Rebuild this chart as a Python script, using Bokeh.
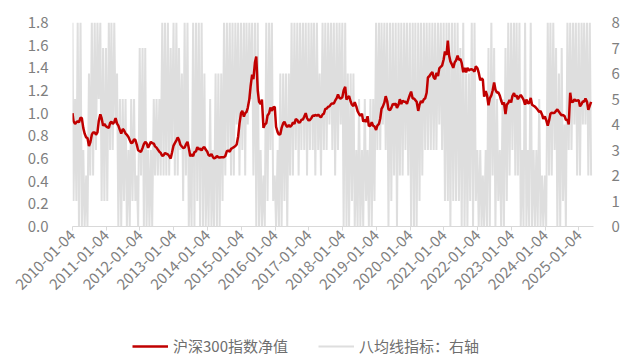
import pandas as pd
from math import pi
from bokeh.plotting import figure
from bokeh.layouts import column
from bokeh.models import (Range1d, LinearAxis, FixedTicker, DatetimeTickFormatter,
                          NumeralTickFormatter, Legend, LegendItem)
from bokeh.embed import file_html
from bokeh.resources import INLINE

FONT = "Noto Sans CJK SC"

tick_labels = ["2010-01-04", "2011-01-04", "2012-01-04", "2013-01-04", "2014-01-04",
               "2015-01-04", "2016-01-04", "2017-01-04", "2018-01-04", "2019-01-04",
               "2020-01-04", "2021-01-04", "2022-01-04", "2023-01-04", "2024-01-04",
               "2025-01-04"]
series_names = ["沪深300指数净值", "八均线指标：右轴"]

# 沪深300指数净值 (semi-monthly readings)
nav_2010 = [1.00, 0.93, 0.905, 0.92, 0.93, 0.92, 0.96, 0.955, 0.868, 0.82, 0.786, 0.78,
            0.71, 0.74, 0.81, 0.83, 0.83, 0.81, 0.83, 0.93, 0.99, 0.956, 0.89, 0.905]
nav_2011 = [0.885, 0.877, 0.87, 0.914, 0.925, 0.905, 0.922, 0.956, 0.908, 0.89, 0.85, 0.82,
            0.86, 0.85, 0.82, 0.81, 0.79, 0.764, 0.735, 0.74, 0.77, 0.764, 0.72, 0.673]
nav_2012 = [0.664, 0.66, 0.693, 0.727, 0.747, 0.735, 0.694, 0.72, 0.747, 0.735, 0.733, 0.707,
            0.696, 0.679, 0.66, 0.65, 0.622, 0.628, 0.649, 0.642, 0.636, 0.622, 0.60, 0.65]
nav_2013 = [0.714, 0.735, 0.76, 0.786, 0.764, 0.724, 0.706, 0.693, 0.696, 0.724, 0.747, 0.693,
            0.62, 0.636, 0.622, 0.656, 0.662, 0.70, 0.68, 0.687, 0.67, 0.693, 0.70, 0.679]
nav_2014 = [0.66, 0.63, 0.623, 0.64, 0.617, 0.60, 0.608, 0.622, 0.611, 0.608, 0.611, 0.611,
            0.612, 0.622, 0.665, 0.67, 0.66, 0.685, 0.693, 0.70, 0.71, 0.724, 0.795, 0.905]
nav_2015 = [1.0, 1.02, 0.97, 1.0, 1.01, 1.047, 1.124, 1.24, 1.34, 1.30, 1.45, 1.50,
            1.20, 1.10, 1.08, 1.12, 0.87, 0.90, 0.91, 0.98, 1.00, 1.05, 1.02, 1.05]
nav_2016 = [1.055, 0.88, 0.833, 0.81, 0.815, 0.87, 0.91, 0.925, 0.893, 0.877, 0.896, 0.88,
            0.892, 0.917, 0.906, 0.948, 0.94, 0.917, 0.92, 0.942, 0.944, 0.97, 1.0, 0.956]
nav_2017 = [0.936, 0.94, 0.958, 0.979, 0.976, 0.984, 0.978, 0.987, 0.973, 0.962, 0.988, 0.996,
            1.037, 1.04, 1.057, 1.06, 1.08, 1.086, 1.085, 1.11, 1.133, 1.165, 1.133, 1.13]
nav_2018 = [1.14, 1.20, 1.233, 1.12, 1.138, 1.15, 1.103, 1.075, 1.063, 1.098, 1.06, 1.018,
            0.993, 0.976, 0.995, 0.925, 0.943, 0.922, 0.973, 0.885, 0.891, 0.92, 0.888, 0.883]
nav_2019 = [0.852, 0.89, 0.905, 0.953, 1.038, 1.058, 1.095, 1.15, 1.107, 1.033, 1.027, 1.047,
            1.082, 1.075, 1.085, 1.047, 1.075, 1.123, 1.08, 1.11, 1.10, 1.10, 1.083, 1.12]
nav_2020 = [1.16, 1.19, 1.13, 1.13, 1.115, 1.10, 1.02, 1.075, 1.107, 1.092, 1.123, 1.13,
            1.18, 1.315, 1.328, 1.347, 1.362, 1.315, 1.30, 1.355, 1.328, 1.395, 1.41, 1.42]
nav_2021 = [1.474, 1.545, 1.514, 1.64, 1.51, 1.457, 1.428, 1.40, 1.449, 1.465, 1.508, 1.47,
            1.478, 1.443, 1.361, 1.40, 1.36, 1.40, 1.376, 1.386, 1.388, 1.38, 1.367, 1.414]
nav_2022 = [1.397, 1.358, 1.291, 1.307, 1.296, 1.146, 1.195, 1.16, 1.07, 1.13, 1.157, 1.20,
            1.27, 1.208, 1.18, 1.185, 1.154, 1.112, 1.076, 1.095, 0.993, 1.075, 1.09, 1.117]
nav_2023 = [1.095, 1.151, 1.176, 1.146, 1.156, 1.123, 1.146, 1.16, 1.14, 1.12, 1.075, 1.12,
            1.087, 1.089, 1.135, 1.075, 1.065, 1.058, 1.044, 1.03, 1.01, 1.018, 0.989, 0.95]
nav_2024 = [0.97, 0.94, 0.89, 0.934, 0.995, 1.004, 1.0, 1.004, 1.02, 1.033, 1.013, 0.996,
            0.98, 0.984, 0.974, 0.942, 0.94, 0.90, 1.18, 1.098, 1.10, 1.123, 1.108, 1.112]
nav_2025 = [1.113, 1.06, 1.08, 1.106, 1.10, 1.129, 1.10, 1.03, 1.066, 1.10]

# 八均线指标 (right axis, semi-monthly readings)
ma8_2010 = [8, 1, 5, 1, 8, 0, 8, 0, 3, 0, 2, 0, 6, 2, 8, 2, 8, 3, 8, 5, 8, 1, 7, 1]
ma8_2011 = [7, 1, 8, 3, 8, 3, 8, 4, 6, 0, 5, 0, 5, 1, 5, 0, 3, 0, 5, 1, 5, 1, 2, 0]
ma8_2012 = [7, 2, 7, 0, 7, 0, 3, 0, 3, 0, 5, 2, 5, 2, 5, 2, 8, 2, 8, 2, 8, 2, 7, 3]
ma8_2013 = [8, 2, 8, 2, 7, 3, 6, 1, 8, 2, 8, 0, 3, 0, 8, 0, 8, 1, 8, 0, 8, 0, 6, 0]
ma8_2014 = [3, 0, 5, 0, 3, 0, 6, 0, 6, 0, 6, 1, 8, 2, 8, 3, 8, 2, 8, 2, 8, 4, 8, 2]
ma8_2015 = [8, 3, 8, 2, 8, 4, 8, 5, 8, 2, 8, 0, 8, 0, 3, 0, 2, 0, 8, 1, 8, 3, 8, 1]
ma8_2016 = [2, 0, 3, 0, 6, 0, 6, 1, 6, 0, 6, 2, 8, 2, 8, 3, 8, 2, 8, 3, 8, 3, 8, 2]
ma8_2017 = [8, 3, 8, 3, 8, 2, 8, 3, 6, 2, 8, 3, 8, 3, 8, 4, 8, 3, 8, 2, 8, 3, 8, 4]
ma8_2018 = [8, 0, 8, 0, 6, 0, 6, 1, 6, 0, 3, 0, 5, 0, 3, 0, 5, 1, 3, 0, 5, 0, 5, 1]
ma8_2019 = [8, 3, 8, 3, 8, 4, 8, 3, 8, 0, 8, 1, 8, 2, 8, 0, 8, 2, 8, 2, 8, 3, 8, 2]
ma8_2020 = [8, 0, 8, 0, 8, 0, 8, 1, 8, 2, 8, 3, 8, 3, 8, 3, 8, 3, 8, 3, 8, 4, 8, 3]
ma8_2021 = [8, 1, 8, 1, 8, 0, 8, 1, 8, 1, 8, 1, 7, 0, 8, 0, 6, 0, 6, 1, 8, 0, 8, 1]
ma8_2022 = [3, 0, 3, 0, 2, 0, 3, 0, 7, 0, 8, 2, 7, 0, 5, 1, 3, 0, 5, 0, 7, 1, 8, 2]
ma8_2023 = [8, 3, 8, 2, 8, 2, 8, 0, 3, 0, 8, 0, 3, 0, 8, 0, 3, 0, 3, 0, 5, 0, 2, 0]
ma8_2024 = [2, 0, 8, 2, 8, 2, 8, 3, 7, 0, 6, 0, 7, 1, 4, 0, 8, 3, 8, 3, 8, 4, 8, 2]
ma8_2025 = [8, 2, 8, 4, 8, 4, 8, 2, 8, 2]

nav = (nav_2010 + nav_2011 + nav_2012 + nav_2013 + nav_2014 + nav_2015 + nav_2016 +
       nav_2017 + nav_2018 + nav_2019 + nav_2020 + nav_2021 + nav_2022 + nav_2023 +
       nav_2024 + nav_2025)
ma8 = (ma8_2010 + ma8_2011 + ma8_2012 + ma8_2013 + ma8_2014 + ma8_2015 + ma8_2016 +
       ma8_2017 + ma8_2018 + ma8_2019 + ma8_2020 + ma8_2021 + ma8_2022 + ma8_2023 +
       ma8_2024 + ma8_2025)

dates = list(pd.date_range("2010-01-01", "2025-05-15", freq="SMS"))
dates[0] = pd.Timestamp("2010-01-04")
dates = dates[:len(nav)]

RED = "#c00000"
GRAY = "#dedede"
AX_COL = "#7f7f7f"

p = figure(width=622, height=312, x_axis_type="datetime", output_backend="svg",
           toolbar_location=None,
           x_range=Range1d(pd.Timestamp("2010-01-04"), pd.Timestamp("2025-06-10")),
           y_range=Range1d(0, 1.8),
           min_border_left=72, min_border_right=22, min_border_top=22,
           min_border_bottom=86)
p.extra_y_ranges = {"right": Range1d(0, 8)}
p.outline_line_color = None
p.xgrid.visible = False
p.ygrid.visible = False

yl = p.yaxis[0]
yl.ticker = FixedTicker(ticks=[0, 0.2, 0.4, 0.6, 0.8, 1.0, 1.2, 1.4, 1.6, 1.8])
yl.formatter = NumeralTickFormatter(format="0.0")
yl.axis_line_color = None
yl.major_tick_line_color = None
yl.minor_tick_line_color = None
yl.major_label_standoff = 18
yl.major_label_text_font = FONT
yl.major_label_text_font_size = "15px"
yl.major_label_text_color = AX_COL

yr = LinearAxis(y_range_name="right",
                ticker=FixedTicker(ticks=[0, 1, 2, 3, 4, 5, 6, 7, 8]),
                formatter=NumeralTickFormatter(format="0"))
yr.axis_line_color = None
yr.major_tick_line_color = None
yr.minor_tick_line_color = None
yr.major_label_standoff = 12
yr.major_label_text_font = FONT
yr.major_label_text_font_size = "15px"
yr.major_label_text_color = AX_COL
p.add_layout(yr, "right")

xa = p.xaxis[0]
xa.ticker = FixedTicker(ticks=[pd.Timestamp(t).value // 10**6 for t in tick_labels])
xa.formatter = DatetimeTickFormatter(days="%Y-%m-%d", months="%Y-%m-%d",
                                     years="%Y-%m-%d")
xa.major_label_orientation = pi / 4
xa.axis_line_color = "#d9d9d9"
xa.major_tick_line_color = "#d9d9d9"
xa.major_tick_out = 4
xa.major_tick_in = 0
xa.minor_tick_line_color = None
xa.major_label_standoff = 2
xa.major_label_text_font = FONT
xa.major_label_text_font_size = "15px"
xa.major_label_text_color = AX_COL

p.line(dates, ma8, y_range_name="right", line_color=GRAY, line_width=2)
p.line(dates, nav, line_color=RED, line_width=2.5)

# legend strip below the chart (its sample lines sit outside the strip's visible range)
lg = figure(width=622, height=44, output_backend="svg", toolbar_location=None,
            x_range=Range1d(0, 1), y_range=Range1d(0, 1),
            min_border_left=0, min_border_right=0, min_border_top=0,
            min_border_bottom=0)
lg.axis.visible = False
lg.grid.visible = False
lg.outline_line_color = None
lr = lg.line(x=[5, 6], y=[5, 6], line_color=RED, line_width=2.5)
lgy = lg.line(x=[5, 6], y=[5, 6], line_color=GRAY, line_width=2)
legend = Legend(items=[LegendItem(label=series_names[0], renderers=[lr]),
                       LegendItem(label=series_names[1], renderers=[lgy])],
                orientation="horizontal", location=(60, 0),
                label_text_font=FONT, label_text_font_size="15px",
                label_text_color="#6e6e6e", glyph_width=36, glyph_height=20,
                label_standoff=5, spacing=30, padding=0, margin=0,
                border_line_color=None, background_fill_alpha=0)
lg.add_layout(legend, "center")

layout = column(p, lg, spacing=0)
open("out.html", "w").write(file_html(layout, INLINE))
